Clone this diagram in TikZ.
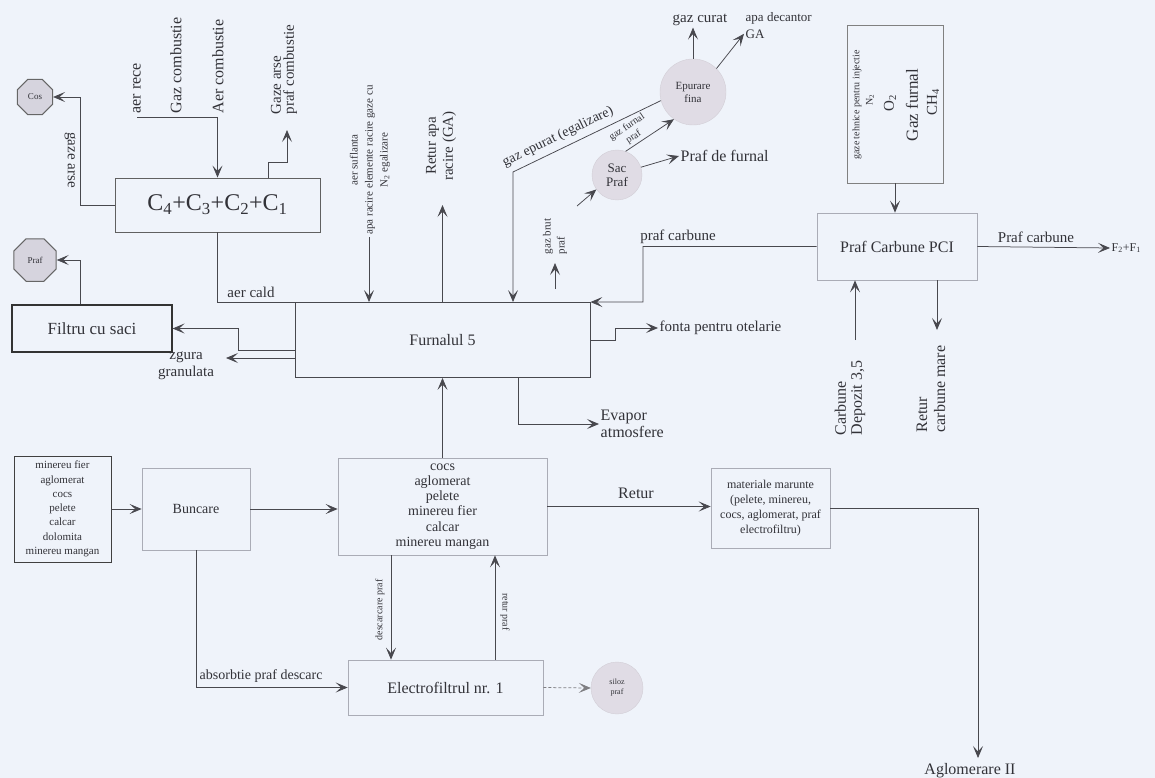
\documentclass[tikz,border=0pt]{standalone}
\usepackage{fontspec}
\setmainfont{Liberation Serif}
\usetikzlibrary{arrows.meta,shapes.geometric,calc}
\definecolor{bgc}{RGB}{239,243,250}
\definecolor{lnc}{RGB}{72,72,78}
\definecolor{txc}{RGB}{50,50,56}
\definecolor{faintc}{RGB}{170,172,182}
\definecolor{bubc}{RGB}{224,220,229}
\definecolor{octc}{RGB}{214,212,222}
\newcommand\fsz[2]{\fontsize{#1}{#2}\selectfont}
\begin{document}
\begin{tikzpicture}[x=1pt,y=-1pt,
  every node/.style={text=txc, inner sep=1.5pt},
  arrowtip/.style={-{Stealth[length=12pt,width=10pt,inset=5.5pt]}},
  flow/.style={draw=lnc, line width=0.75pt, arrowtip},
  plain/.style={draw=lnc, line width=0.75pt},
  fbox/.style={draw=faintc, line width=0.7pt, align=center},
  dbox/.style={draw=lnc, line width=0.9pt, align=center},
  bubble/.style={circle, fill=bubc, draw=bubc!85!gray, line width=0.4pt, align=center, inner sep=0pt},
  oct/.style={regular polygon, regular polygon sides=8, fill=octc, draw=gray!80!black, line width=1pt, inner sep=0pt},
]
\fill[bgc] (0,0) rectangle (1155,778);
\useasboundingbox (0,0) rectangle (1155,778);

% ---------- boxes ----------
\node[dbox, draw=gray!75!black, minimum width=205pt, minimum height=54pt, font=\fsz{24}{26}] (cbox) at (217.5,205) {C\textsubscript{4}+C\textsubscript{3}+C\textsubscript{2}+C\textsubscript{1}};
\node[dbox, minimum width=295pt, minimum height=75pt, font=\fsz{16}{18}] (furn) at (442.5,340) {Furnalul 5};
\node[dbox, draw=black!80, line width=1.2pt, minimum width=160pt, minimum height=47pt, font=\fsz{17}{18}] (filtru) at (92,328.5) {Filtru cu saci};
\node[dbox, draw=black!75, minimum width=97pt, minimum height=106pt, font=\fsz{11}{14.3}] (inbox) at (62.5,509) {minereu fier\\aglomerat\\cocs\\pelete\\calcar\\dolomita\\minereu mangan};
\node[fbox, minimum width=108pt, minimum height=82pt, font=\fsz{14}{16}] (bunc) at (196,509) {Buncare};
\node[fbox, minimum width=209pt, minimum height=97pt, font=\fsz{14}{15.2}] (charge) at (442.5,506.5) {cocs\\aglomerat\\pelete\\minereu fier\\calcar\\minereu mangan};
\node[fbox, minimum width=195pt, minimum height=55pt, font=\fsz{16}{18}] (electro) at (445.5,687.5) {Electrofiltrul nr. 1};
\node[fbox, minimum width=119pt, minimum height=80pt, font=\fsz{12}{15}] (retbox) at (770.5,508) {materiale marunte\\(pelete, minereu,\\cocs, aglomerat, praf\\electrofiltru)};
\node[fbox, minimum width=160pt, minimum height=67pt, font=\fsz{16}{18}] (pci) at (897,246.5) {Praf Carbune PCI};
\node[fbox, draw=gray, minimum width=96pt, minimum height=158pt] (gasbox) at (895,104) {};
\node[rotate=90, font=\fsz{10}{11}] (g1) at (857,105) {gaze tehnice pentru injectie};
\node[rotate=90, font=\fsz{10}{11}] (g2) at (870,100) {N\textsubscript{2}};
\node[rotate=90, font=\fsz{15}{16}] (g3) at (890,103) {O\textsubscript{2}};
\node[rotate=90, font=\fsz{17}{18}] (g4) at (912,105) {Gaz furnal};
\node[rotate=90, font=\fsz{15}{16}] (g5) at (933,102) {CH\textsubscript{4}};

% ---------- round / octagon nodes ----------
\node[oct, minimum size=38pt, font=\fsz{9}{10}] (cos) at (35,97) {Cos};
\node[oct, minimum size=46pt, font=\fsz{9}{10}] (prafo) at (35,260) {Praf};
\node[bubble, minimum size=50pt, font=\fsz{13}{14}] (sac) at (617,175) {Sac\\Praf};
\node[bubble, minimum size=66pt, font=\fsz{11}{13}] (epur) at (693,92) {Epurare\\fina};
\node[bubble, minimum size=52pt, font=\fsz{8}{10}] (siloz) at (617,688) {siloz\\praf};

% ---------- text end nodes ----------
\node[font=\fsz{15}{16}] (gc) at (700,20) {gaz curat};
\node[font=\fsz{13}{17}, align=left, anchor=north west] (ad) at (744,11) {apa decantor\\GA};
\node[font=\fsz{16}{18}, anchor=west] (pdf) at (679,156) {Praf de furnal};
\node[font=\fsz{12}{14}, anchor=west] (f21) at (1110,248) {F\textsubscript{2}+F\textsubscript{1}};
\node[font=\fsz{15}{16}, anchor=west] (fonta) at (658,328) {fonta pentru otelarie};
\node[font=\fsz{16}{17}, align=left, anchor=west] (ev) at (599,424) {Evapor\\atmosfere};
\node[font=\fsz{16}{15}, anchor=north] (agl) at (970,762) {Aglomerare II};

% ---------- C box connections ----------
\coordinate (cosj) at (80,205);
\draw[flow] (cbox.west) -- (cosj) |- (cos.east);
\node[rotate=-90, font=\fsz{15}{16}] (gza) at (70,160) {gaze arse};

\coordinate (in1) at (137,117);
\coordinate (in3) at (217.5,117);
\draw[plain] (in1) -- (in3);
\draw[flow] (in3) -- (cbox.north);
\node[rotate=90, anchor=west, font=\fsz{16}{17}] (l1) at (137,115) {aer rece};
\node[rotate=90, anchor=west, font=\fsz{16}{17}] (l2) at (176,115) {Gaz combustie};
\node[rotate=90, anchor=west, font=\fsz{16}{17}] (l3) at (218,115) {Aer combustie};

\coordinate (gap) at (287,130);
\draw[flow] ([xshift=50.5pt]cbox.north) -- ++(0,-15) -| (gap);
\node[rotate=90, anchor=west, align=left, font=\fsz{15}{13}] (l4) at (284,116) {Gaze arse\\praf combustie};

\draw[plain] (cbox.south) |- (furn.north west);
\node[font=\fsz{15}{16}] (acald) at (251,292) {aer cald};

% ---------- furnace top inputs ----------
\coordinate (suf) at (369,237);
\draw[flow] (suf) -- (suf |- furn.north);
\node[rotate=90, align=center, font=\fsz{11}{15}] (lsuf) at (370,160) {aer suflanta\\apa racire elemente racire gaze cu\\N\textsubscript{2} egalizare};

\coordinate (rapa) at (442.5,205);
\draw[flow] (furn.north) -- (rapa);
\node[rotate=90, align=center, font=\fsz{15}{17}] (lrapa) at (441,146) {Retur apa\\racire (GA)};

\coordinate (ge) at (513,172);
\draw[flow] (epur.195) -- (ge) -- (ge |- furn.north);
\path (epur.195) -- node[sloped, above=4pt, font=\fsz{14}{15}, pos=0.66] (lge) {gaz epurat (egalizare)} (ge);

\coordinate (gb1) at (555,289);
\coordinate (gb2) at (555,263);
\draw[flow] (gb1) -- (gb2);
\node[rotate=90, align=left, anchor=west, font=\fsz{11}{14}] (lgb) at (555,256) {gaz brut\\praf};
\coordinate (gb3) at (577,206);
\draw[flow] (gb3) -- (sac.215);

\draw[flow] (sac.70) -- (epur.235);
\path (sac.70) -- node[sloped, above=1pt, font=\fsz{10}{12}, align=center, pos=0.25] (lgf) {gaz furnal\\praf} (epur.235);
\draw[flow] (sac.18) -- (pdf.west);
\draw[flow] (epur.north) -- (epur.north |- gc.south);
\draw[flow] (epur.45) -- ([yshift=-8pt]ad.west);

% ---------- PCI ----------
\draw[flow] (gasbox.south) -- (gasbox.south |- pci.north);
\coordinate (pc1) at (643,302);
\draw[flow] (pci.west) -| (pc1) -- (furn.north east);
\node[font=\fsz{15}{16}] (lpc) at (678,237) {praf carbune};
\draw[flow] (pci.east) -- (f21.west);
\node[font=\fsz{15}{16}] (lpc2) at (1036,237) {Praf carbune};
\coordinate (cb1) at (855,340);
\draw[flow] (cb1) -- (cb1 |- pci.south);
\node[rotate=90, anchor=west, align=left, font=\fsz{16}{16}] (lcb) at (850,437) {Carbune\\Depozit 3,5};
\coordinate (rc1) at (937,330);
\draw[flow] (rc1 |- pci.south) -- (rc1);
\node[rotate=90, anchor=west, align=left, font=\fsz{16}{18}] (lrc) at (931,434) {Retur\\carbune mare};

% ---------- furnace outputs ----------
\draw[flow] (furn.east) -- ++(25,0) |- (fonta.west);
\draw[flow] ([xshift=75.5pt]furn.south) |- (ev.west);
\coordinate (fj) at (238,350);
\draw[flow] ([yshift=-10pt]furn.west) -- (fj) |- (filtru.east);
\coordinate (zg) at (226,358);
\draw[flow] ([yshift=-18pt]furn.west) -- (zg);
\node[font=\fsz{15}{17}, align=center] (lzg) at (186,366) {zgura\\granulata};
\draw[flow] ([xshift=-12pt]filtru.north) |- (prafo.east);

% ---------- bottom ----------
\draw[flow] (inbox.east) -- (bunc.west);
\draw[flow] (bunc.east) -- (bunc.east -| charge.west);
\draw[flow] (bunc.south) |- (electro.west);
\node[font=\fsz{14}{15}, anchor=south west] (labs) at (198,684) {absorbtie praf descarc};
\draw[flow] (charge.north) -- (furn.south);
\draw[flow] (charge.east) -- (charge.east -| retbox.west);
\node[font=\fsz{16}{17}] (lret) at (636,493) {Retur};
\coordinate (aglin) at (978,758);
\draw[flow] (retbox.east) -| (aglin);
\draw[flow] ([xshift=-51.5pt]charge.south) -- ([xshift=-51.5pt]charge.south |- electro.north);
\node[rotate=90, font=\fsz{10}{11}] (ldesc) at (380,610) {descarcare praf};
\draw[flow] ([xshift=49.5pt]electro.north) -- ([xshift=49.5pt]electro.north |- charge.south);
\node[rotate=-90, font=\fsz{10}{11}] (lrp) at (505,612) {retur praf};
\draw[flow, densely dashed, draw=lnc!70] (electro.east) -- (siloz.west);
\end{tikzpicture}
\end{document}
